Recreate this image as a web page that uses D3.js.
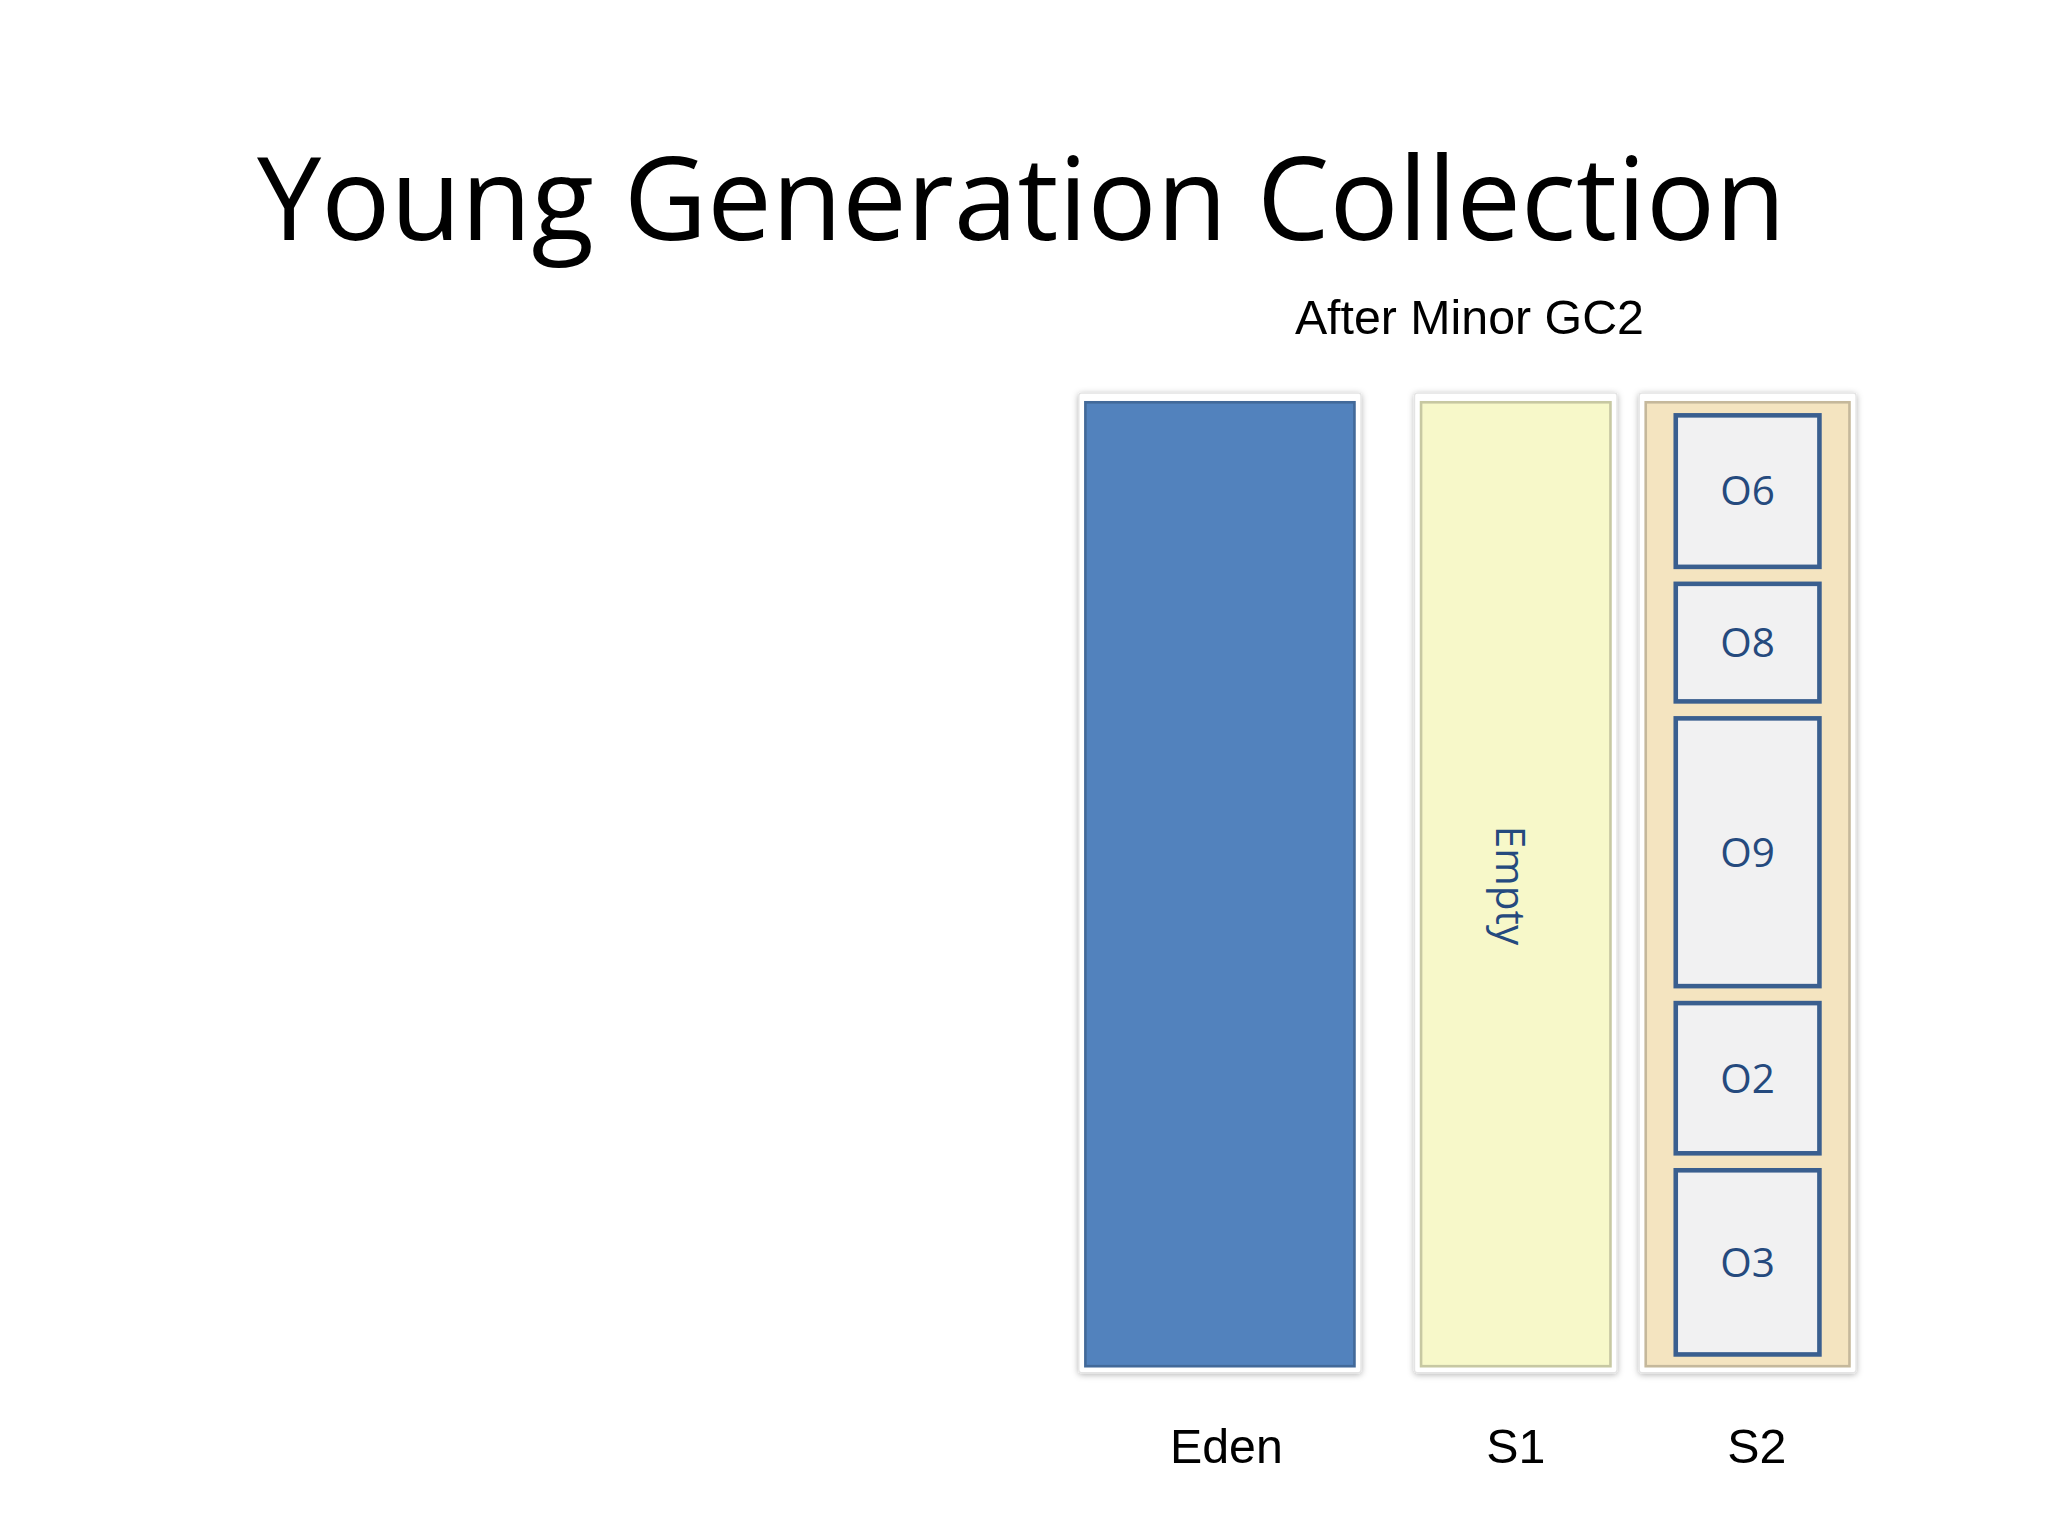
<!DOCTYPE html>
<html><head><meta charset="utf-8">
<script src="https://cdn.jsdelivr.net/npm/d3@7"></script>
<style>body{margin:0;background:#fff}</style></head>
<body><svg id="c" width="2048" height="1536" viewBox="0 0 1568 1176"></svg>
<script>
const title = "Young Generation Collection";
const subtitle = "After Minor GC2";
const spaces = ["Eden", "S1", "S2"];
const spaceFill = ["#5282bd", "#f7f8c9", "#f4e4c0"];
const objects = ["O6", "O8", "O9", "O2", "O3"];
const objectSizes = [116, 90, 205, 115, 141];
const emptyLabel = "Empty";

const svg = d3.select("#c");
const defs = svg.append("defs");
const f = defs.append("filter").attr("id","sh").attr("x","-10%").attr("y","-10%").attr("width","120%").attr("height","120%");
f.append("feDropShadow").attr("dx",0).attr("dy",1).attr("stdDeviation",2.5).attr("flood-color","#000").attr("flood-opacity",0.3);

svg.append("text").attr("x",782).attr("y",184).attr("text-anchor","middle")
  .attr("font-family","Open Sans, Noto Sans, sans-serif").attr("font-size",88).text(title);
svg.append("text").attr("x",1125).attr("y",256).attr("text-anchor","middle")
  .attr("font-family","Liberation Sans, Arial, sans-serif").attr("font-size",37).text(subtitle);

// horizontal layout
const outerX = {Eden:[826,1042], S1:[1083,1238], S2:[1255,1421]};
const y = d3.scaleLinear().domain([0,1]).range([1051,301]);

spaces.forEach((s,i)=>{
  const [x0,x1]=outerX[s];
  svg.append("rect").attr("x",x0).attr("y",y(1)).attr("width",x1-x0).attr("height",y(0)-y(1))
    .attr("fill","#fff").attr("stroke","#e4e4e4").attr("filter","url(#sh)").attr("rx",2);
  const inner = svg.append("rect").attr("x",x0+5).attr("y",y(1)+7).attr("width",x1-x0-10).attr("height",y(0)-y(1)-12)
    .attr("fill",spaceFill[i]).attr("stroke",d3.color(spaceFill[i]).darker(0.6)).attr("stroke-width",2);
  svg.append("text").attr("x",(x0+x1)/2+ (s==="S2"?7:(s==="Eden"?5:0))).attr("y",1120).attr("text-anchor","middle")
    .attr("font-family","Liberation Sans, Arial, sans-serif").attr("font-size",37).text(s);
});

// Empty label in S1
svg.append("text").attr("transform","translate(1145,678) rotate(90)").attr("text-anchor","middle")
  .attr("font-family","Open Sans, Noto Sans, sans-serif").attr("font-size",31).attr("fill","#254a7e").text(emptyLabel);

// objects in S2
const gap = 13;
let cur = 318;
const oy = d3.scaleLinear().domain([0,1]).range([0,1]);
objects.forEach((o,i)=>{
  const h = oy(objectSizes[i]);
  svg.append("rect").attr("x",1283).attr("y",cur).attr("width",110).attr("height",h)
    .attr("fill","#f1f1f2").attr("stroke","#3a5f8f").attr("stroke-width",3.5);
  svg.append("text").attr("x",1338).attr("y",cur+h/2+11).attr("text-anchor","middle")
    .attr("font-family","Open Sans, Noto Sans, sans-serif").attr("font-size",31).attr("fill","#254a7e").text(o);
  cur += h + gap;
});
</script></body></html>
